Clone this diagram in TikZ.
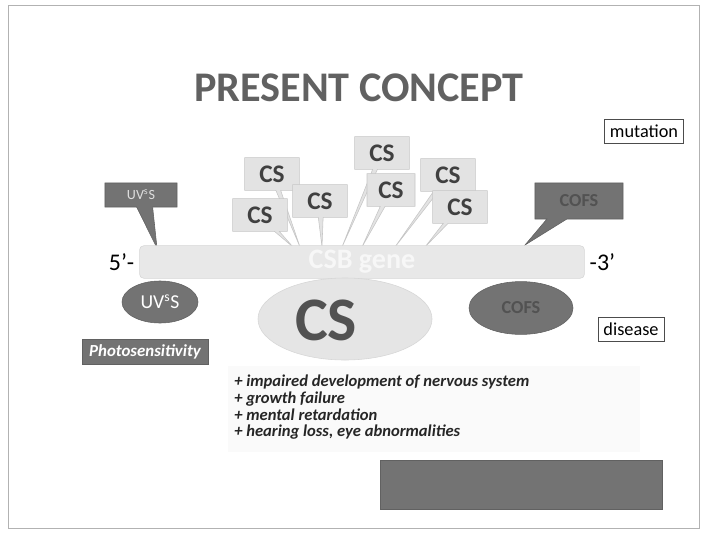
\documentclass[tikz,border=0pt]{standalone}
\usepackage{fontspec}
\setmainfont{Carlito}
\usetikzlibrary{shapes.geometric,shapes.callouts}

\begin{document}
\begin{tikzpicture}[x=0.025cm,y=-0.025cm,
    csbox/.style={rectangle callout,fill=gray!22,draw=gray!45,
      minimum width=1.37cm,minimum height=0.82cm,callout pointer width=0.12cm,
      font=\bfseries\fontsize{18}{18}\selectfont,text=black!75},
    darkbox/.style={fill=black!55,draw=black!62},
    tagbox/.style={draw=black!70,fill=white,inner sep=4pt,
      font=\fontsize{13}{13}\selectfont}]

  \useasboundingbox (0,0) rectangle (702,532);
  \draw[gray!60] (8,5) rectangle (699,528);

  \path (359,88) node[font=\bfseries\fontsize{30}{30}\selectfont,
                      text=black!62] (title) {PRESENT CONCEPT};

  \path (644,131) node[tagbox] (mutation) {mutation};
  \path (631,329) node[tagbox] (disease) {disease};

  % where the callouts point on the gene
  \coordinate (t1) at (300,247);
  \coordinate (t2) at (293,247);
  \coordinate (t3) at (322,247);
  \coordinate (t4) at (342,247);
  \coordinate (t5) at (362,247);
  \coordinate (t6) at (395,247);
  \coordinate (t7) at (425,247);
  \coordinate (tu) at (157,248);
  \coordinate (tc) at (525,245);

  \path (272,174) node[csbox,callout absolute pointer={(t1)}] (cs1) {CS};
  \path (260,215) node[csbox,callout absolute pointer={(t2)}] (cs2) {CS};
  \path (320,201) node[csbox,callout absolute pointer={(t3)}] (cs3) {CS};
  \path (382,153) node[csbox,callout absolute pointer={(t4)}] (cs4) {CS};
  \path (391,190) node[csbox,callout absolute pointer={(t5)},
                       minimum width=1.2cm] (cs5) {CS};
  \path (448,175) node[csbox,callout absolute pointer={(t6)}] (cs6) {CS};
  \path (460,207) node[csbox,callout absolute pointer={(t7)}] (cs7) {CS};

  \path (141,195) node[rectangle callout,darkbox,minimum width=1.8cm,
                       minimum height=0.6cm,callout pointer width=0.4cm,
                       callout absolute pointer={(tu)},text=gray!25,
                       font=\fontsize{10}{10}\selectfont]
                      (uvcall) {UV\textsuperscript{s}S};
  \path (579,201) node[rectangle callout,darkbox,minimum width=2.2cm,
                       minimum height=0.9cm,callout pointer width=0.5cm,
                       callout absolute pointer={(tc)},text=black!68,
                       font=\bfseries\fontsize{13}{13}\selectfont]
                      (cofscall) {COFS};

  % the gene
  \path (362,262) node[rectangle,rounded corners=3pt,fill=gray!18,
                       draw=gray!32,minimum width=11.12cm,minimum height=0.78cm,
                       text=gray!6,font=\bfseries\fontsize{20}{20}\selectfont]
                      (gene) {CSB gene};
  \path (gene.west) node[left,font=\fontsize{17}{17}\selectfont] (five) {5’-};
  \path (gene.east) node[right,font=\fontsize{17}{17}\selectfont] (three) {-3’};

  \path (160,302) node[ellipse,darkbox,minimum width=1.9cm,minimum height=1.05cm,
                       text=white,font=\fontsize{14}{14}\selectfont]
                      (uvs) {UV\textsuperscript{s}S};
  \path (145,352) node[rectangle,darkbox,minimum width=3.15cm,minimum height=0.62cm,
                       text=white,font=\bfseries\itshape\fontsize{12}{12}\selectfont]
                      (photo) {Photosensitivity};
  \path (345,319) node[ellipse,fill=gray!20,draw=gray!32,minimum width=4.35cm,
                       minimum height=2.05cm] (csell) {};
  \path (326,320) node[text=black!68,font=\bfseries\fontsize{44}{44}\selectfont]
                      (cs) {CS};
  \path (521,308) node[ellipse,darkbox,minimum width=2.6cm,minimum height=1.32cm,
                       text=black!68,font=\bfseries\fontsize{13}{13}\selectfont]
                      (cofs) {COFS};

  % symptoms
  \fill[gray!4] (228,366) rectangle (640,452);
  \path (234,375) node[anchor=north west,align=left,inner sep=0pt,text=black!85,
                       font=\bfseries\itshape\fontsize{11.8}{11.8}\selectfont]
                      (signs) {+ impaired development of nervous system\\
                               + growth failure\\
                               + mental retardation\\
                               + hearing loss, eye abnormalities};

  \path (521,484.5) node[rectangle,darkbox,minimum width=7.05cm,
                         minimum height=1.22cm] (note) {};
\end{tikzpicture}
\end{document}
